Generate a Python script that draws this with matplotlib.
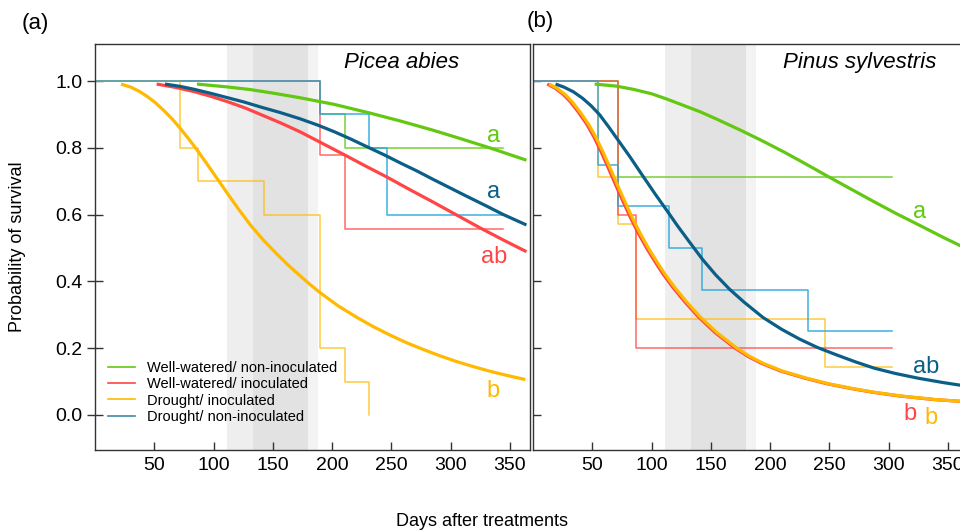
import matplotlib
matplotlib.use('Agg')
import matplotlib.pyplot as plt
from matplotlib.lines import Line2D

plt.rcParams['font.family'] = ['Liberation Sans', 'DejaVu Sans']

GREEN = '#62c812'
RED = '#ff4545'
ORANGE = '#ffb900'
DBLUE = '#0b5f86'
LBLUE = '#2ba6dc'

# ---- (a) Picea abies : Kaplan-Meier steps ----
pa_green_t = [0, 190, 211, 344]
pa_green_s = [1.0, 0.9, 0.8, 0.8]
pa_red_t = [0, 190, 211, 344]
pa_red_s = [1.0, 0.778, 0.556, 0.556]
pa_orange_t = [0, 72, 87, 143, 190, 211, 231]
pa_orange_s = [1.0, 0.8, 0.7, 0.6, 0.2, 0.1, 0.0]
pa_blue_t = [0, 190, 231, 246, 344]
pa_blue_s = [1.0, 0.9, 0.8, 0.6, 0.6]

# ---- (a) fitted curves ----
pa_green_fit_d = [86, 110, 130, 150, 173, 202, 231, 258, 285, 308, 333, 364]
pa_green_fit_p = [0.991, 0.983, 0.975, 0.964, 0.950, 0.930, 0.905, 0.880, 0.853, 0.828,
                  0.800, 0.763]
pa_red_fit_d = [52, 68, 84, 98, 112, 127, 141, 157, 173, 192, 211, 228, 246, 265, 285,
                305, 325, 345, 364]
pa_red_fit_p = [0.991, 0.981, 0.968, 0.954, 0.938, 0.919, 0.898, 0.874, 0.848, 0.813,
                0.778, 0.746, 0.713, 0.676, 0.638, 0.599, 0.560, 0.523, 0.489]
pa_orange_fit_d = [22, 30, 37, 44, 51, 58, 65, 72, 79, 86, 95, 104, 113, 122, 132, 142,
                   152, 162, 172, 181, 190, 205, 221, 235, 249, 263, 277, 291, 305, 319,
                   333, 348, 363]
pa_orange_fit_p = [0.991, 0.982, 0.970, 0.954, 0.935, 0.912, 0.887, 0.858, 0.827, 0.794,
                   0.749, 0.703, 0.657, 0.612, 0.565, 0.524, 0.487, 0.452, 0.420, 0.392,
                   0.366, 0.327, 0.292, 0.264, 0.239, 0.216, 0.196, 0.177, 0.160, 0.145,
                   0.131, 0.118, 0.106]
pa_blue_fit_d = [59, 72, 84, 98, 112, 126, 140, 156, 173, 188, 202, 216, 229, 244, 258,
                 272, 285, 299, 313, 329, 344, 364]
pa_blue_fit_p = [0.991, 0.984, 0.975, 0.963, 0.950, 0.937, 0.922, 0.906, 0.887, 0.868,
                 0.848, 0.826, 0.804, 0.779, 0.754, 0.730, 0.706, 0.681, 0.656, 0.628,
                 0.601, 0.569]

# ---- (b) Pinus sylvestris : Kaplan-Meier steps ----
ps_green_t = [0, 72, 303]
ps_green_s = [1.0, 0.714, 0.714]
ps_red_t = [0, 72, 87, 303]
ps_red_s = [1.0, 0.6, 0.2, 0.2]
ps_orange_t = [0, 55, 72, 87, 246, 303]
ps_orange_s = [1.0, 0.714, 0.571, 0.286, 0.143, 0.143]
ps_blue_t = [0, 55, 72, 114.5, 143, 232, 303]
ps_blue_s = [1.0, 0.75, 0.625, 0.5, 0.375, 0.25, 0.25]

# ---- (b) fitted curves ----
ps_green_fit_d = [52, 70, 85, 100, 113, 127, 141, 155, 175, 194, 212, 230, 248, 268, 288,
                  306, 325, 346, 368]
ps_green_fit_p = [0.991, 0.985, 0.975, 0.962, 0.946, 0.927, 0.908, 0.886, 0.853, 0.820,
                  0.787, 0.752, 0.716, 0.677, 0.638, 0.604, 0.570, 0.532, 0.494]
ps_red_fit_d = [12, 18.5, 25.5, 31.5, 38.5, 45.5, 51.5, 57.5, 63.5, 69.5, 75.5, 82.5,
                89.5, 96.5, 103.5, 109.5, 118.5, 128.5, 139.5, 153.5, 170.5, 181.5, 192.5,
                208.5, 229.5, 248.5, 268.5, 286.5, 308.5, 338.5, 368]
ps_red_fit_p = [0.991, 0.979, 0.960, 0.938, 0.906, 0.870, 0.832, 0.788, 0.740, 0.691,
                0.643, 0.589, 0.540, 0.496, 0.456, 0.423, 0.380, 0.337, 0.294, 0.247,
                0.200, 0.175, 0.155, 0.132, 0.110, 0.093, 0.079, 0.068, 0.057, 0.046,
                0.039]
ps_orange_fit_d = [13.6, 20, 27, 33, 40, 47, 53, 59, 65, 71, 77, 84, 91, 98, 105, 111,
                   120, 130, 141, 155, 172, 183, 194, 210, 231, 250, 270, 288, 310, 340,
                   368]
ps_orange_fit_p = [0.991, 0.979, 0.960, 0.938, 0.906, 0.870, 0.832, 0.788, 0.740, 0.691,
                   0.643, 0.589, 0.540, 0.496, 0.456, 0.423, 0.380, 0.337, 0.294, 0.247,
                   0.200, 0.175, 0.155, 0.132, 0.110, 0.093, 0.079, 0.068, 0.057, 0.046,
                   0.039]
ps_blue_fit_d = [19, 26, 34, 42, 49, 56, 64, 72, 82, 93, 103, 113, 122, 132, 143, 154,
                 166, 178, 194, 210, 225, 240, 256, 272, 288, 306, 325, 346, 368]
ps_blue_fit_p = [0.991, 0.982, 0.968, 0.948, 0.926, 0.900, 0.862, 0.822, 0.772, 0.714,
                 0.662, 0.612, 0.566, 0.518, 0.466, 0.420, 0.376, 0.338, 0.292, 0.256,
                 0.227, 0.202, 0.180, 0.159, 0.140, 0.124, 0.110, 0.097, 0.085]

# shaded periods (days)
shade_light1 = (111, 133)
shade_dark = (133, 180)
shade_light2 = (180, 188)

legend_labels = ['Well-watered/ non-inoculated', 'Well-watered/ inoculated',
                 'Drought/ inoculated', 'Drought/ non-inoculated']
legend_colors = [GREEN, RED, ORANGE, '#3f8aa6']

xticks = [50, 100, 150, 200, 250, 300, 350]
yticks = [0.0, 0.2, 0.4, 0.6, 0.8, 1.0]

fig = plt.figure(figsize=(9.6, 5.32), dpi=100)
ax1 = fig.add_axes([95/960, 1-450/532, 435/960, 406/532])
ax2 = fig.add_axes([533/960, 1-450/532, 435/960, 406/532])


def setup(ax, inout):
    ax.axvspan(*shade_light1, color='#eeeeee', lw=0, zorder=0)
    ax.axvspan(*shade_dark, color='#e2e2e2', lw=0, zorder=0)
    ax.axvspan(*shade_light2, color='#f3f3f3', lw=0, zorder=0)
    ax.set_xlim(0, 367)
    ax.set_ylim(-0.105, 1.111)
    ax.set_xticks(xticks)
    ax.set_yticks(yticks)
    for s in ax.spines.values():
        s.set_linewidth(1.0)
        s.set_color('#333333')
    ax.tick_params(axis='x', direction='in', length=6, width=1, pad=5,
                   labelsize=14, color='#333333')
    if inout:
        ax.tick_params(axis='y', direction='inout', length=12, width=1, pad=3,
                       labelsize=14, color='#333333')
        ax.set_yticklabels(['%.1f' % v for v in yticks])
    else:
        ax.tick_params(axis='y', direction='in', length=6, width=1,
                       labelleft=False, color='#333333')


setup(ax1, True)
setup(ax2, False)

sw = 1.1
cw = 2.3
# panel a
ax1.step(pa_green_t, pa_green_s, where='post', color=GREEN, lw=sw, alpha=0.85)
ax1.step(pa_red_t, pa_red_s, where='post', color=RED, lw=sw, alpha=0.8)
ax1.step(pa_orange_t, pa_orange_s, where='post', color=ORANGE, lw=sw, alpha=0.75)
ax1.step(pa_blue_t, pa_blue_s, where='post', color=LBLUE, lw=sw, alpha=0.9)
ax1.plot(pa_green_fit_d, pa_green_fit_p, color=GREEN, lw=cw, solid_capstyle='butt')
ax1.plot(pa_red_fit_d, pa_red_fit_p, color=RED, lw=cw, solid_capstyle='butt')
ax1.plot(pa_blue_fit_d, pa_blue_fit_p, color=DBLUE, lw=cw, solid_capstyle='butt')
ax1.plot(pa_orange_fit_d, pa_orange_fit_p, color=ORANGE, lw=cw, solid_capstyle='butt')

# panel b
ax2.step(ps_green_t, ps_green_s, where='post', color=GREEN, lw=sw, alpha=0.85)
ax2.step(ps_orange_t, ps_orange_s, where='post', color=ORANGE, lw=sw, alpha=0.75)
ax2.step(ps_red_t, ps_red_s, where='post', color=RED, lw=sw, alpha=0.8)
ax2.step(ps_blue_t, ps_blue_s, where='post', color=LBLUE, lw=sw, alpha=0.9)
ax2.plot(ps_green_fit_d, ps_green_fit_p, color=GREEN, lw=cw, solid_capstyle='butt')
ax2.plot(ps_blue_fit_d, ps_blue_fit_p, color=DBLUE, lw=cw, solid_capstyle='butt')
ax2.plot(ps_red_fit_d, ps_red_fit_p, color=RED, lw=cw, solid_capstyle='butt')
ax2.plot(ps_orange_fit_d, ps_orange_fit_p, color=ORANGE, lw=cw, solid_capstyle='butt')

# significance letters
lt = dict(fontsize=17, ha='center', va='baseline')
ax1.text(336, 0.817, 'a', color=GREEN, **lt)
ax1.text(336, 0.650, 'a', color=DBLUE, **lt)
ax1.text(337, 0.455, 'ab', color=RED, **lt)
ax1.text(336, 0.054, 'b', color=ORANGE, **lt)
ax2.text(326, 0.590, 'a', color=GREEN, **lt)
ax2.text(332, 0.126, 'ab', color=DBLUE, **lt)
ax2.text(318, -0.015, 'b', color=RED, **lt)
ax2.text(336, -0.027, 'b', color=ORANGE, **lt)

# species names
ax1.text(259, 1.057, 'Picea abies', style='italic', fontsize=16, ha='center', va='center')
ax2.text(276, 1.057, 'Pinus sylvestris', style='italic', fontsize=16, ha='center', va='center')

handles = [Line2D([], [], color=c, lw=1.2) for c in legend_colors]
ax1.legend(handles, legend_labels, loc='center left', bbox_to_anchor=(0.03, 0.1416),
           frameon=False, fontsize=10.5, handlelength=1.85, handletextpad=0.8,
           labelspacing=0.15, borderpad=0, borderaxespad=0)

fig.text(35/960, 1-24/532, '(a)', fontsize=16, ha='center', va='center')
fig.text(540/960, 1-22/532, '(b)', fontsize=16, ha='center', va='center')
fig.text(18/960, 1-247/532, 'Probability of survival', rotation=90,
         fontsize=13, ha='center', va='center')
fig.text(482/960, 1-521/532, 'Days after treatments', fontsize=13,
         ha='center', va='center')

fig.savefig('out.png', dpi=100)
